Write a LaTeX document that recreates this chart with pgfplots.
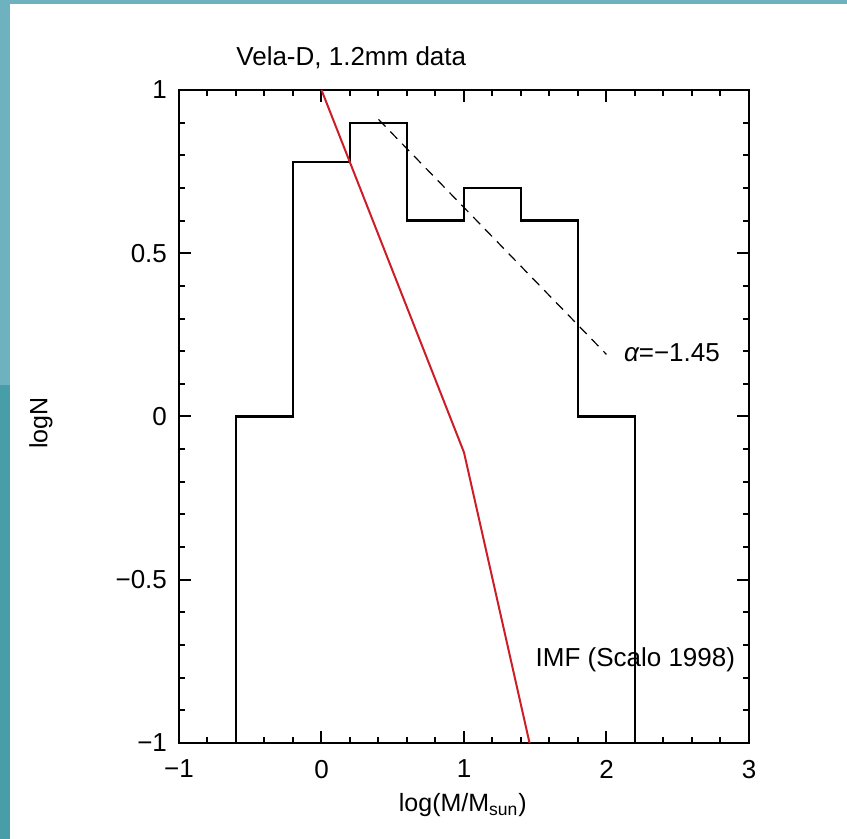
\documentclass[border=0pt]{standalone}
\usepackage{pgfplots}
\pgfplotsset{compat=1.18}
\usepackage{fontspec}
\setmainfont{Liberation Sans}
\definecolor{tealA}{RGB}{110,178,192}
\definecolor{tealB}{RGB}{72,158,168}
\definecolor{imfred}{RGB}{205,30,40}
\begin{document}
\begin{tikzpicture}
\useasboundingbox (0,0) rectangle (423.5pt,419.5pt);
\fill[white] (0,0) rectangle (423.5pt,419.5pt);
\fill[tealB] (0,0) rectangle (5pt,227pt);
\fill[tealA] (0,227pt) rectangle (5pt,419.5pt);
\fill[tealA] (0,417.5pt) rectangle (423.5pt,419.5pt);
\begin{axis}[
  at={(89.5pt,48pt)}, anchor=south west,
  scale only axis, width=285pt, height=326.5pt,
  xmin=-1, xmax=3, ymin=-1, ymax=1,
  xtick={-1,0,1,2,3}, xticklabels={−1,0,1,2,3},
  ytick={-1,-0.5,0,0.5,1}, yticklabels={−1,−0.5,0,0.5,1},
  minor x tick num=4, minor y tick num=4,
  tick align=inside, tick pos=both,
  xticklabel pos=lower, yticklabel pos=left,
  major tick length=6pt, minor tick length=3pt,
  every tick/.style={black, line width=1pt},
  axis line style={line width=1pt},
  tick label style={font=\fontsize{13}{15}\selectfont},
  xticklabel style={yshift=-5pt},
  yticklabel style={xshift=-2.5pt},
  clip mode=individual,
]
\addplot[black, line width=1.1pt] coordinates {
  (-0.6,-1) (-0.6,0) (-0.2,0) (-0.2,0.78) (0.2,0.78) (0.2,0.9) (0.6,0.9)
  (0.6,0.6) (1.0,0.6) (1.0,0.7) (1.4,0.7) (1.4,0.6) (1.8,0.6) (1.8,0)
  (2.2,0) (2.2,-1)};
\addplot[imfred, line width=1pt] coordinates {(0,1) (1.0,-0.11) (1.46,-1)};
\addplot[black, line width=0.6pt, dash pattern=on 5pt off 3.5pt] coordinates {(0.4,0.91) (2.0,0.19)};
\node[anchor=west, inner sep=0pt, font=\fontsize{13}{15}\selectfont] at (axis cs:2.12,0.195) {{\itshape α}=−1.45};
\node[anchor=west, inner sep=0pt, font=\fontsize{13}{15}\selectfont] at (axis cs:1.5,-0.745) {IMF (Scalo 1998)};
\node[anchor=west, inner sep=0pt, font=\fontsize{13}{15}\selectfont] at (axis cs:-0.6,1.1) {Vela-D, 1.2mm data};
\node[font=\fontsize{12.5}{15}\selectfont] at (rel axis cs:0.498,0) [yshift=-31pt] {log(M/M\textsubscript{sun})};
\path (rel axis cs:0,0.49) ++(-69pt,0pt) node[font=\fontsize{12.5}{15}\selectfont, rotate=90] {logN};
\end{axis}
\end{tikzpicture}
\end{document}
